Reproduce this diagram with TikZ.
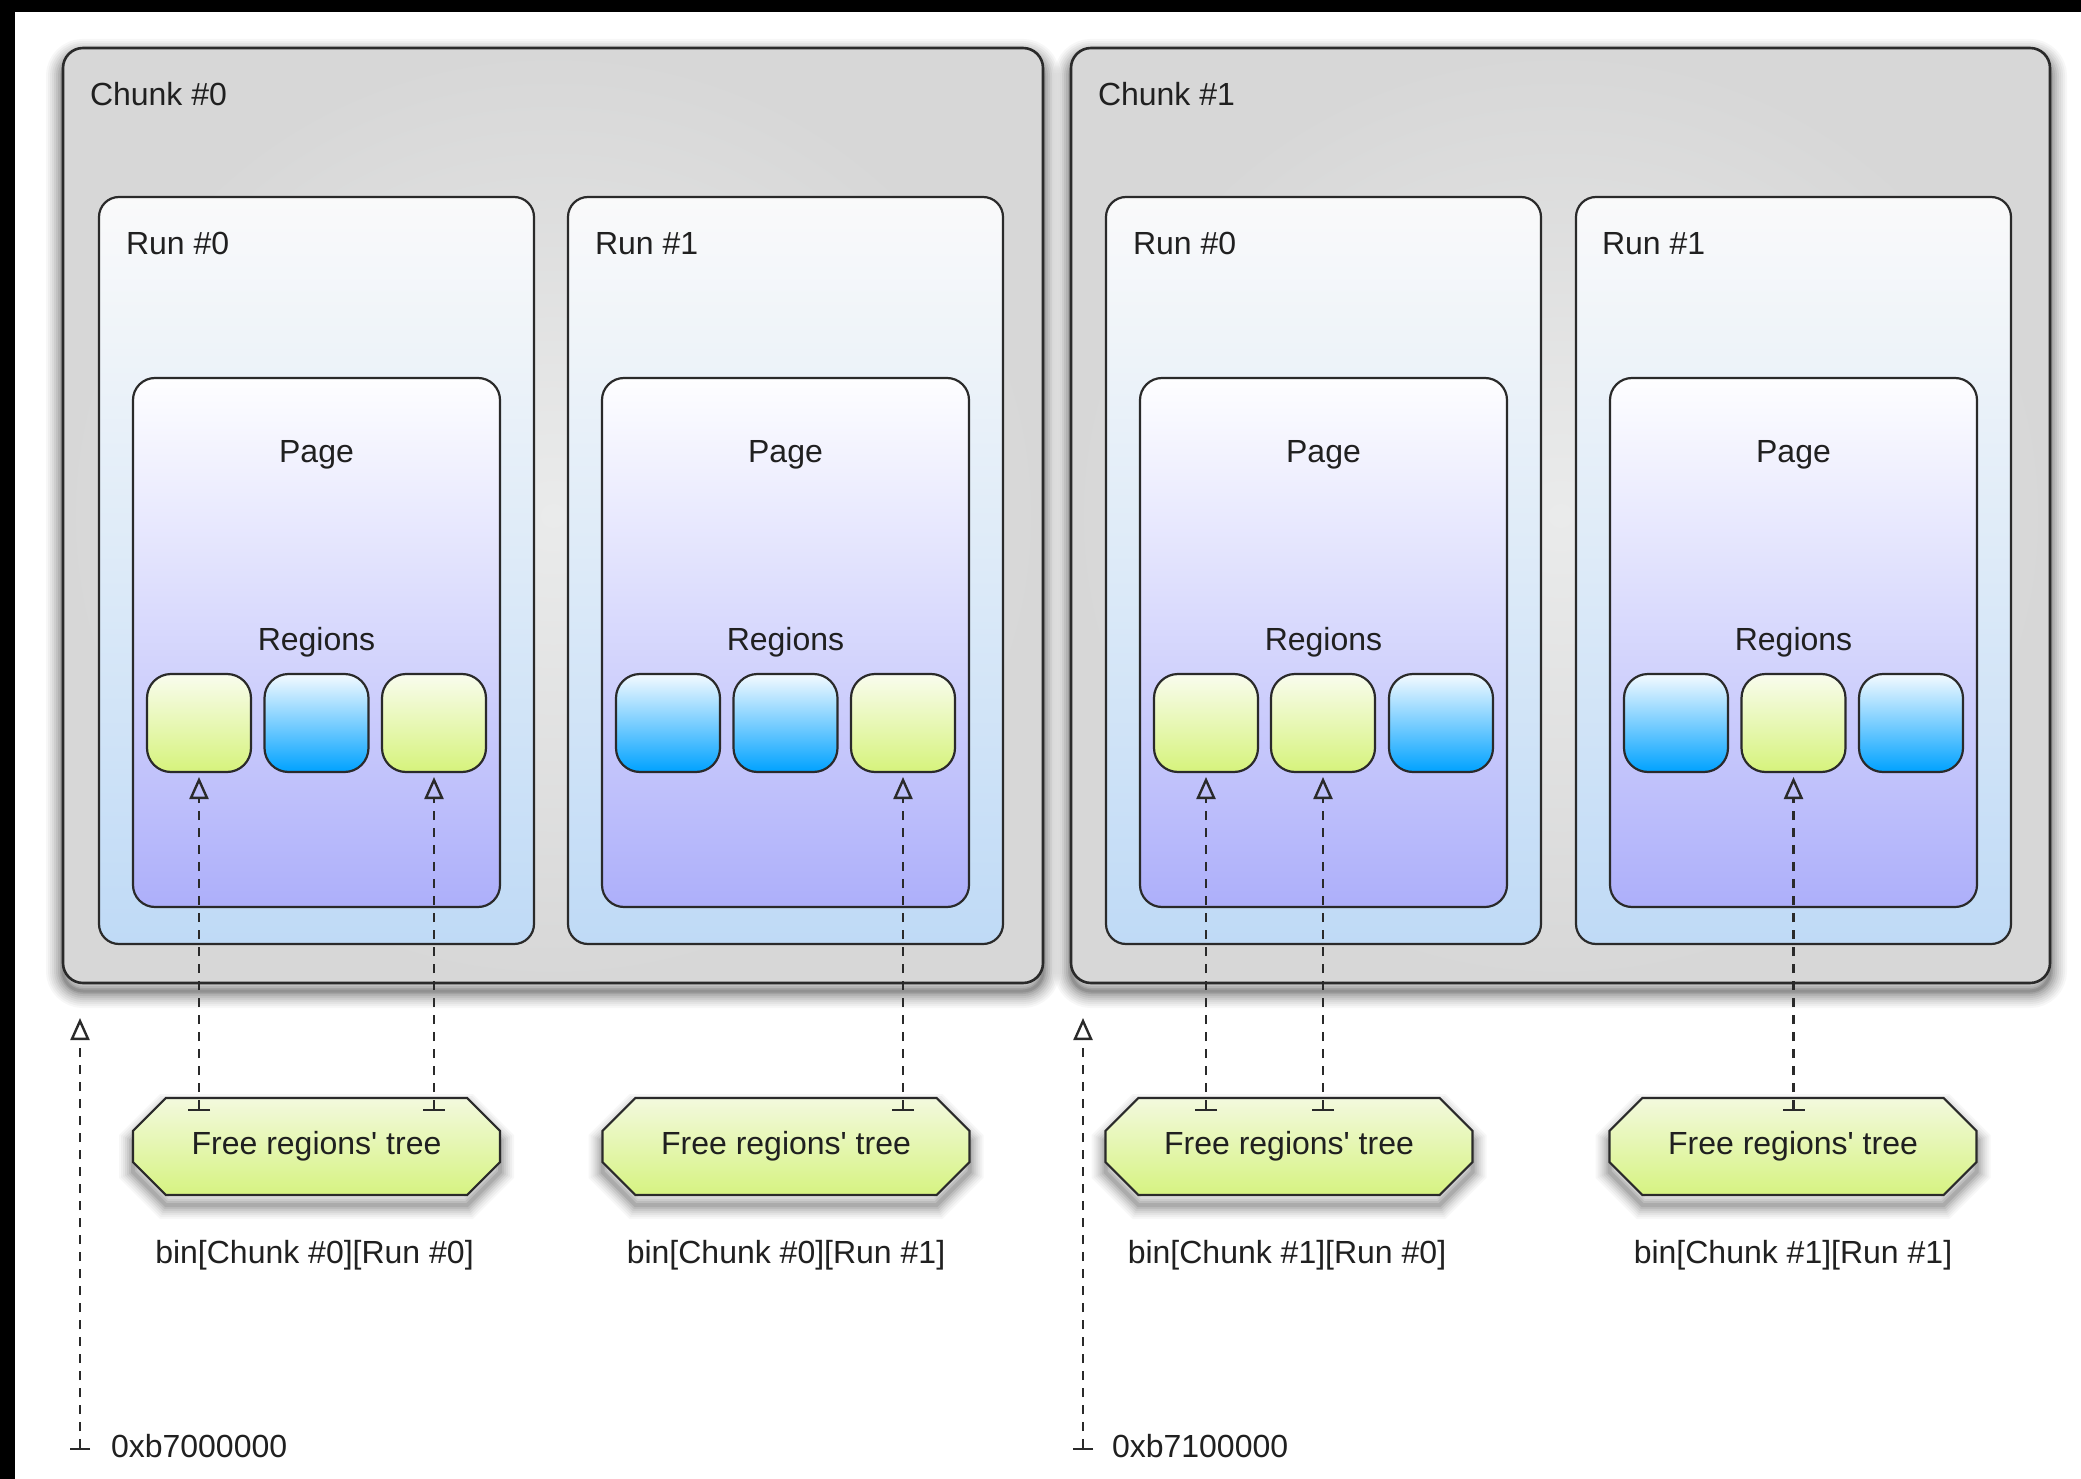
\documentclass[tikz,border=0pt]{standalone}
\usepackage{fontspec}
\setmainfont{Liberation Sans}[Ligatures=TeXOff]
\usetikzlibrary{arrows.meta,shapes.misc,calc}

\definecolor{ink}{HTML}{202020}
\definecolor{edge}{HTML}{2A2A2A}
\definecolor{chunkhi}{HTML}{EAEBEB}
\definecolor{chunklo}{HTML}{D7D7D7}
\definecolor{runtop}{HTML}{FAFAFA}
\definecolor{runbot}{HTML}{BFDAF6}
\definecolor{pagetop}{HTML}{FEFEFF}
\definecolor{pagebot}{HTML}{ADAFFA}
\definecolor{freetop}{HTML}{F9FCEE}
\definecolor{freebot}{HTML}{D6F37C}
\definecolor{usedtop}{HTML}{F4FAFF}
\definecolor{usedmid}{HTML}{9CD2FF}
\definecolor{usedbot}{HTML}{00A2FF}
\definecolor{treetop}{HTML}{F3F9DE}
\definecolor{treebot}{HTML}{D6F381}

\tikzset{
  % soft shadow made of stacked translucent strokes
  shadowring/.style 2 args={preaction={draw=black, draw opacity=#2, line width=#1,
    transform canvas={yshift=-8pt}}},
  bigshadow/.style={
    shadowring={34pt}{.03}, shadowring={30pt}{.035}, shadowring={26pt}{.04},
    shadowring={22pt}{.045}, shadowring={18pt}{.05}, shadowring={14pt}{.06},
    shadowring={10pt}{.07}, shadowring={6pt}{.09}, shadowring={3pt}{.1}},
  treering/.style 2 args={preaction={draw=black, draw opacity=#2, line width=#1,
    transform canvas={yshift=-10pt}}},
  smallshadow/.style={
    treering={28pt}{.03}, treering={24pt}{.035}, treering={20pt}{.04},
    treering={16pt}{.05}, treering={12pt}{.06}, treering={8pt}{.07}, treering={4pt}{.09}},
  chunkbox/.style={bigshadow, draw=edge, line width=2.6pt, rounded corners=20pt,
    minimum height=935pt, inner color=chunkhi, outer color=chunklo},
  runbox/.style={draw=edge, line width=2.2pt, rounded corners=20pt,
    minimum width=435pt, minimum height=747pt, top color=runtop, bottom color=runbot},
  pagebox/.style={draw=edge, line width=2.2pt, rounded corners=22pt,
    minimum width=367pt, minimum height=529pt, top color=pagetop, bottom color=pagebot},
  regbox/.style={draw=edge, line width=2.2pt, rounded corners=24pt,
    minimum width=104pt, minimum height=98pt},
  freereg/.style={regbox, top color=freetop, bottom color=freebot},
  usedreg/.style={regbox, top color=usedtop, middle color=usedmid, bottom color=usedbot},
  treebox/.style={smallshadow, chamfered rectangle, chamfered rectangle sep=18pt,
    draw=edge, line width=2.2pt, minimum width=367pt, minimum height=97pt,
    top color=treetop, bottom color=treebot},
  link/.style={line width=2.4pt, draw=edge, dash pattern=on 9pt off 8pt,
    {Bar[width=22pt]}-{Triangle[open,length=22pt,width=19pt]}},
  lbl/.style={anchor=base west},
  mid/.style={anchor=base}
}

\begin{document}
\begin{tikzpicture}[x=1pt,y=-1pt,
  every node/.style={font=\fontsize{32}{38}\selectfont, text=ink, inner sep=0pt, outer sep=0pt}]
\useasboundingbox (0,0) rectangle (2081,1479);
\fill[white] (0,0) rectangle (2081,1479);
\fill[black] (0,0) rectangle (2081,12);
\fill[black] (0,0) rectangle (15,1479);

% chunks
\node[chunkbox, minimum width=980pt] (c0) at (553,515.5) {};
\node[chunkbox, minimum width=979pt] (c1) at (1560.5,515.5) {};
\node[lbl] (lc0) at (90,106) {Chunk \#0};
\node[lbl] (lc1) at (1098,106) {Chunk \#1};

% runs
\node[runbox] (u00) at (316.5,570.5) {};
\node[runbox] (u01) at (785.5,570.5) {};
\node[runbox] (u10) at (1323.5,570.5) {};
\node[runbox] (u11) at (1793.5,570.5) {};
\node[lbl] (lu00) at (126,255) {Run \#0};
\node[lbl] (lu01) at (595,255) {Run \#1};
\node[lbl] (lu10) at (1133,255) {Run \#0};
\node[lbl] (lu11) at (1602,255) {Run \#1};

% pages
\node[pagebox] (p00) at (316.5,642.5) {};
\node[pagebox] (p01) at (785.5,642.5) {};
\node[pagebox] (p10) at (1323.5,642.5) {};
\node[pagebox] (p11) at (1793.5,642.5) {};
\foreach \p/\x in {00/316.5, 01/785.5, 10/1323.5, 11/1793.5} {
  \node[mid] (lp\p) at (\x,462) {Page};
  \node[mid] (lr\p) at (\x,650) {Regions};
}

% regions
\node[freereg] (r00a) at (199,723) {};
\node[usedreg] (r00b) at (316.5,723) {};
\node[freereg] (r00c) at (434,723) {};
\node[usedreg] (r01a) at (668,723) {};
\node[usedreg] (r01b) at (785.5,723) {};
\node[freereg] (r01c) at (903,723) {};
\node[freereg] (r10a) at (1206,723) {};
\node[freereg] (r10b) at (1323,723) {};
\node[usedreg] (r10c) at (1441,723) {};
\node[usedreg] (r11a) at (1676,723) {};
\node[freereg] (r11b) at (1793.5,723) {};
\node[usedreg] (r11c) at (1911,723) {};

% free-region trees
\node[treebox] (t00) at (316.5,1146.5) {Free regions' tree};
\node[treebox] (t01) at (786,1146.5) {Free regions' tree};
\node[treebox] (t10) at (1289,1146.5) {Free regions' tree};
\node[treebox] (t11) at (1793,1146.5) {Free regions' tree};
\node[mid] (b00) at (314.5,1263) {bin[Chunk \#0][Run \#0]};
\node[mid] (b01) at (786,1263) {bin[Chunk \#0][Run \#1]};
\node[mid] (b10) at (1287,1263) {bin[Chunk \#1][Run \#0]};
\node[mid] (b11) at (1793,1263) {bin[Chunk \#1][Run \#1]};

% tree -> region pointers
\foreach \t/\r in {t00/r00a, t00/r00c, t01/r01c, t10/r10a, t10/r10b, t11/r11b}
  \draw[link] ($(\t.north -| \r.south)+(0,13)$) -- ($(\r.south)+(0,5)$);

% chunk base addresses
\coordinate (a0) at (80,1450);
\coordinate (a1) at (1083,1450);
\draw[link, {Bar[width=20pt]}-{Triangle[open,length=22pt,width=19pt]}] (a0) -- ($(a0 |- c0.south)+(0,35)$);
\draw[link, {Bar[width=20pt]}-{Triangle[open,length=22pt,width=19pt]}] (a1) -- ($(a1 |- c1.south)+(0,35)$);
\node[lbl] (la0) at (111,1457) {0xb7000000};
\node[lbl] (la1) at (1112,1457) {0xb7100000};
\end{tikzpicture}
\end{document}
